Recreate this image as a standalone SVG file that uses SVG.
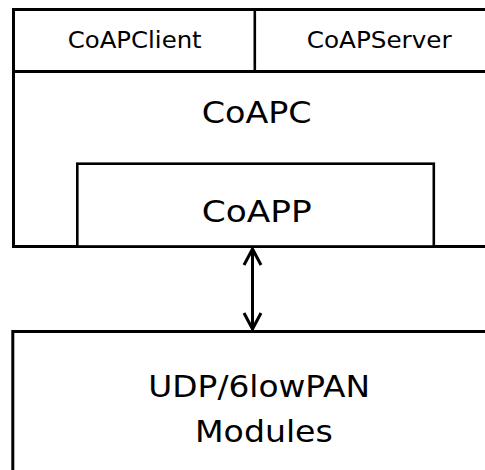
<svg xmlns="http://www.w3.org/2000/svg" width="485" height="470" viewBox="0 0 485 470">
  <style>
    .frame { fill: #ffffff; stroke: #000000; stroke-width: 3; }
    .inner { fill: #ffffff; stroke: #000000; stroke-width: 2.6; }
    .rule { stroke: #000000; stroke-width: 3; fill: none; }
    .label { font-family: "DejaVu Sans", "Liberation Sans", sans-serif; fill: #000000; }
    .small { font-size: 23px; }
    .big { font-size: 30px; }
    .link { stroke: #000000; stroke-width: 3; fill: none; }
    .head { stroke: #000000; stroke-width: 3; fill: none; stroke-linejoin: miter; }
  </style>
  <defs>
    <marker id="chevron" markerUnits="userSpaceOnUse" markerWidth="40" markerHeight="40" refX="0" refY="0" orient="auto-start-reverse" overflow="visible">
      <path class="head" d="M-16,-8.5 L0,0 L-16,8.5"/>
    </marker>
  </defs>

  <!-- CoAPC container with its client/server header strip -->
  <g id="coapc">
    <rect class="frame" x="13.5" y="9.5" width="500" height="237"/>
    <line class="rule" x1="12" y1="71.5" x2="490" y2="71.5"/>
    <text class="label big" x="256.7" y="123.3" text-anchor="middle" textLength="110" lengthAdjust="spacingAndGlyphs">CoAPC</text>
  </g>
  <g id="coapclient">
    <text class="label small" x="134.7" y="48.3" text-anchor="middle" textLength="134" lengthAdjust="spacingAndGlyphs">CoAPClient</text>
  </g>
  <g id="coapserver">
    <line class="rule" x1="254.8" y1="9.5" x2="254.8" y2="71.5" style="stroke-width:2.6"/>
    <text class="label small" x="379.2" y="48.3" text-anchor="middle" textLength="145" lengthAdjust="spacingAndGlyphs">CoAPServer</text>
  </g>

  <!-- CoAPP sits on the bottom edge of CoAPC -->
  <g id="coapp">
    <rect class="inner" x="77.3" y="163.7" width="356.5" height="82.8"/>
    <text class="label big" x="256.7" y="221.7" text-anchor="middle" textLength="110" lengthAdjust="spacingAndGlyphs">CoAPP</text>
  </g>

  <!-- Transport layer -->
  <g id="udp">
    <rect class="frame" x="12.8" y="331.5" width="500" height="200"/>
    <text class="label big" x="259.2" y="396.7" text-anchor="middle" textLength="221.7" lengthAdjust="spacingAndGlyphs">UDP/6lowPAN</text>
    <text class="label big" x="263.9" y="441.7" text-anchor="middle" textLength="137.7" lengthAdjust="spacingAndGlyphs">Modules</text>
  </g>

  <g id="connectors">
    <line class="link" x1="252.5" y1="249" x2="252.5" y2="329" marker-start="url(#chevron)" marker-end="url(#chevron)"/>
  </g>
</svg>
